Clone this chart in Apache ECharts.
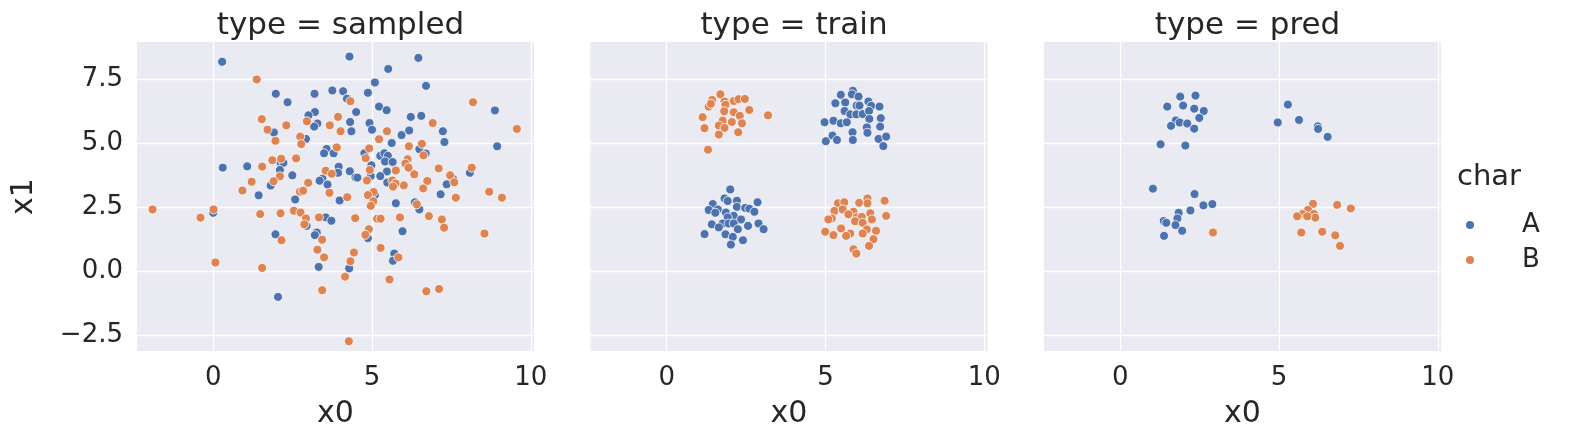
<!DOCTYPE html>
<html>
<head>
<meta charset="utf-8">
<script src="https://cdn.jsdelivr.net/npm/echarts@6/dist/echarts.min.js"></script>
<style>html,body{margin:0;padding:0;background:#fff}#chart{width:1585px;height:447px}</style>
</head>
<body>
<div id="chart"></div>
<script>
var panels = ['sampled', 'train', 'pred'];
var xTicks = [0, 5, 10];
var yTicks = [-2.5, 0, 2.5, 5, 7.5];

var sampledA = [[0.28,8.18],[1.97,6.93],[2.34,6.6],[3.19,6.93],[3.75,7.06],[3.2,6.22],[3.0,6.09],[3.28,5.77],[3.18,5.65],
  [1.91,5.42],[2.92,5.17],[3.57,4.78],[3.49,4.61],[2.12,4.24],[2.21,4.24],[0.3,4.05],[1.07,4.1],[2.1,3.96],[2.49,3.75],
  [3.44,3.62],[3.35,3.54],[3.6,3.39],[1.81,3.35],[1.43,2.97],[2.58,2.81],[0.0,2.29],[2.94,1.78],[3.54,2.11],[3.72,1.98],
  [1.96,1.45],[3.26,1.52],[3.2,1.42],[3.32,0.18],[2.04,-0.99],
  [4.29,8.38],[6.46,8.33],[5.51,7.9],[5.09,7.37],[6.7,7.24],[4.09,7.03],[4.87,6.97],[4.21,6.74],[5.22,6.43],[5.46,6.29],
  [4.5,6.22],[8.87,6.28],[6.22,6.03],[6.55,6.07],[4.31,5.83],[4.92,5.79],[4.35,5.47],[5.0,5.53],[6.17,5.5],[5.93,5.32],
  [7.23,5.47],[5.62,5.01],[7.28,5.05],[8.94,4.88],[6.49,4.77],[6.69,4.6],[3.79,4.61],[4.76,4.61],[5.26,4.51],[5.39,4.61],
  [5.5,4.51],[5.41,4.29],[5.65,4.27],[4.98,4.14],[3.95,4.09],[4.3,3.91],[3.93,3.85],[4.48,3.67],[4.54,3.66],[4.96,3.72],
  [5.47,3.9],[5.26,3.72],[8.08,3.85],[7.55,3.62],[7.35,3.4],[5.48,3.47],[5.09,2.98],[3.98,2.77],[7.16,3.01],[5.75,2.66],
  [6.35,2.7],[6.49,2.42],[5.96,1.57],[4.87,1.3],[5.7,0.7],[5.66,0.42],[4.28,0.12]];
var sampledB = [[1.37,7.49],[1.53,5.94],[2.95,5.86],[2.3,5.7],[1.71,5.53],[3.67,5.7],[2.74,5.26],[1.96,5.1],[2.77,4.97],
  [1.86,4.34],[2.14,4.4],[2.61,4.41],[1.54,4.09],[2.1,3.71],[3.54,3.93],[3.73,3.81],[1.21,3.5],[1.9,3.52],[2.99,3.46],
  [0.92,3.16],[2.73,3.11],[2.83,3.15],[3.66,3.07],[-1.91,2.42],[0.01,2.42],[-0.4,2.1],[1.48,2.24],[2.12,2.27],[2.54,2.37],
  [2.75,2.3],[2.92,2.07],[2.87,1.84],[3.33,2.11],[2.15,1.22],[3.43,1.24],[3.28,0.85],[3.49,0.55],[0.07,0.35],[1.54,0.14],
  [3.43,-0.73],
  [4.32,6.64],[8.18,6.6],[3.93,6.03],[6.91,5.79],[4.01,5.47],[5.47,5.47],[9.56,5.56],[5.22,5.16],[3.89,4.84],[4.91,4.8],
  [6.16,4.88],[6.57,4.98],[6.62,4.53],[4.8,4.42],[6.12,4.38],[6.05,4.21],[6.15,4.05],[4.93,3.96],[4.84,3.55],[5.75,3.94],
  [6.33,3.79],[7.1,4.02],[8.14,4.05],[7.46,3.75],[7.59,3.48],[6.74,3.53],[6.61,3.24],[6.0,3.36],[5.64,3.55],[5.74,3.43],
  [5.66,3.31],[5.05,3.1],[4.87,2.98],[5.04,2.74],[4.96,2.56],[4.22,2.9],[7.64,2.88],[8.69,3.11],[9.09,2.88],[6.41,2.62],
  [4.47,2.08],[5.16,2.06],[5.27,2.06],[5.88,2.11],[6.79,2.16],[7.2,2.03],[7.27,1.71],[8.54,1.48],[4.9,1.65],[4.79,1.43],
  [4.43,0.74],[5.83,0.55],[5.27,0.92],[4.32,0.4],[4.15,-0.2],[5.55,-0.31],[6.71,-0.77],[7.11,-0.68],[4.27,-2.72]];

var trainA = [[5.86,7.05],[5.83,6.91],[5.48,6.89],[6.04,6.82],[5.31,6.56],[5.62,6.59],[5.98,6.47],[6.07,6.47],[6.35,6.63],
  [6.44,6.46],[6.7,6.43],[5.6,6.26],[5.78,6.13],[5.97,6.13],[6.17,6.14],[6.37,6.26],[6.74,5.98],[6.38,5.95],[4.97,5.82],
  [5.25,5.88],[5.48,5.78],[5.67,5.82],[6.3,5.62],[6.72,5.65],[6.32,5.41],[5.85,5.43],[5.22,5.3],[5.36,5.13],[5.86,5.13],
  [5.01,5.08],[6.67,5.17],[6.82,4.89],[6.91,5.26],
  [2.0,3.2],[1.82,2.85],[1.92,2.75],[2.21,2.76],[1.45,2.63],[2.86,2.7],[1.32,2.4],[1.61,2.42],[2.21,2.52],[2.47,2.48],
  [2.6,2.45],[2.76,2.33],[1.86,2.3],[1.53,2.29],[2.11,2.17],[1.92,2.11],[2.34,2.03],[1.42,1.84],[1.76,1.87],[1.95,1.87],
  [2.11,1.87],[1.64,1.72],[2.56,1.78],[2.89,1.87],[2.24,1.65],[3.05,1.65],[1.19,1.46],[1.85,1.45],[2.08,1.35],[2.4,1.22],
  [2.02,1.05]];
var trainB = [[1.69,6.91],[1.43,6.69],[1.32,6.43],[1.39,6.54],[1.82,6.63],[1.85,6.5],[2.11,6.65],[2.26,6.72],[2.46,6.73],
  [2.6,6.3],[3.19,6.09],[1.81,6.25],[2.11,6.21],[2.3,6.07],[1.13,6.02],[1.76,5.88],[2.05,5.83],[2.37,5.78],[1.64,5.69],
  [1.82,5.6],[1.19,5.59],[2.25,5.43],[1.64,5.34],[1.3,4.75],
  [5.39,2.66],[5.59,2.7],[6.06,2.68],[6.32,2.85],[6.32,2.66],[6.86,2.76],[5.28,2.36],[5.54,2.42],[5.88,2.33],[6.41,2.27],
  [6.91,2.17],[5.2,2.07],[5.09,2.03],[5.72,2.23],[5.98,2.11],[6.14,2.13],[6.46,2.03],[5.93,1.96],[6.17,1.9],[5.49,1.68],
  [6.3,1.64],[6.59,1.59],[4.99,1.55],[5.25,1.42],[5.78,1.48],[5.65,1.39],[6.17,1.48],[6.51,1.26],[6.37,1.0],[5.88,0.87],
  [5.97,0.7]];

var predA = [[1.89,6.82],[2.37,6.86],[1.48,6.43],[1.98,6.47],[2.33,6.35],[2.63,6.26],[2.49,5.99],[1.75,5.89],[1.87,5.81],
  [2.11,5.77],[1.6,5.68],[2.33,5.57],[1.27,4.96],[2.05,4.91],[5.28,6.51],[4.96,5.81],[5.63,5.91],[6.22,5.66],[6.23,5.56],
  [6.53,5.25],[1.03,3.23],[2.34,3.02],[2.9,2.63],[2.62,2.58],[2.21,2.38],[1.84,2.29],[1.8,2.07],[1.37,1.97],[1.45,1.9],
  [1.74,1.81],[1.95,1.59],[1.38,1.39]];
var predB = [[2.92,1.52],[6.07,2.64],[6.83,2.6],[7.26,2.46],[5.91,2.4],[5.74,2.24],[5.57,2.15],[6.1,2.24],[6.14,2.1],
  [5.89,2.15],[5.7,1.52],[6.36,1.55],[6.77,1.41],[6.92,1.0]];

var dataA = [sampledA, trainA, predA];
var dataB = [sampledB, trainB, predB];

var ink = '#262626';
var font = 'DejaVu Sans';
var grids = [], xAxes = [], yAxes = [], series = [], titles = [];

panels.forEach(function (p, i) {
  var left = 137 + i * 453.5;
  grids.push({ left: left, top: 42, width: 397, height: 309, show: true, backgroundColor: '#EAEAF2', borderWidth: 0 });
  xAxes.push({
    gridIndex: i, type: 'value', min: -2.4, max: 10.1,
    name: 'x0', nameLocation: 'middle', nameGap: 48,
    nameTextStyle: { fontSize: 30, color: ink, fontFamily: font },
    axisLine: { show: false },
    axisTick: { show: false, customValues: xTicks },
    axisLabel: { customValues: xTicks, fontSize: 26, color: ink, fontFamily: font, margin: 14 },
    splitLine: { show: true, lineStyle: { color: '#fff', width: 1.3 } }
  });
  yAxes.push({
    gridIndex: i, type: 'value', min: -3.1, max: 8.95,
    name: i === 0 ? 'x1' : '', nameLocation: 'middle', nameGap: 98,
    nameTextStyle: { fontSize: 30, color: ink, fontFamily: font },
    axisLine: { show: false },
    axisTick: { show: false, customValues: yTicks },
    axisLabel: { show: i === 0, customValues: yTicks, fontSize: 26, color: ink, fontFamily: font, margin: 14,
      formatter: function (v) { return v.toFixed(1).replace('-', '\u2212'); } },
    splitLine: { show: true, lineStyle: { color: '#fff', width: 1.3 } }
  });
  titles.push({ text: 'type = ' + p, left: left + 198.5, top: 5, textAlign: 'center',
    textStyle: { fontSize: 31, fontWeight: 'normal', color: ink, fontFamily: font } });
  [['A', dataA[i], '#4C72B0'], ['B', dataB[i], '#DD8452']].forEach(function (s) {
    series.push({
      name: s[0], type: 'scatter', xAxisIndex: i, yAxisIndex: i, data: s[1],
      symbolSize: 9, itemStyle: { color: s[2], borderColor: '#fff', borderWidth: 0.8, opacity: 1 },
      emphasis: { disabled: true }, animation: false
    });
  });
});

titles.push({ text: 'char', left: 1452, top: 158, textStyle: { fontSize: 29, fontWeight: 'normal', color: ink, fontFamily: font } });

var chart = echarts.init(document.getElementById('chart'));
chart.setOption({
  animation: false,
  title: titles,
  grid: grids, xAxis: xAxes, yAxis: yAxes, series: series,
  legend: {
    data: ['A', 'B'], orient: 'vertical', left: 1459, top: 207, itemGap: 9,
    icon: 'circle', itemWidth: 10, itemHeight: 10,
    textStyle: { fontSize: 26, color: ink, fontFamily: font, padding: [0, 0, 0, 42] }
  }
});
</script>
</body>
</html>
